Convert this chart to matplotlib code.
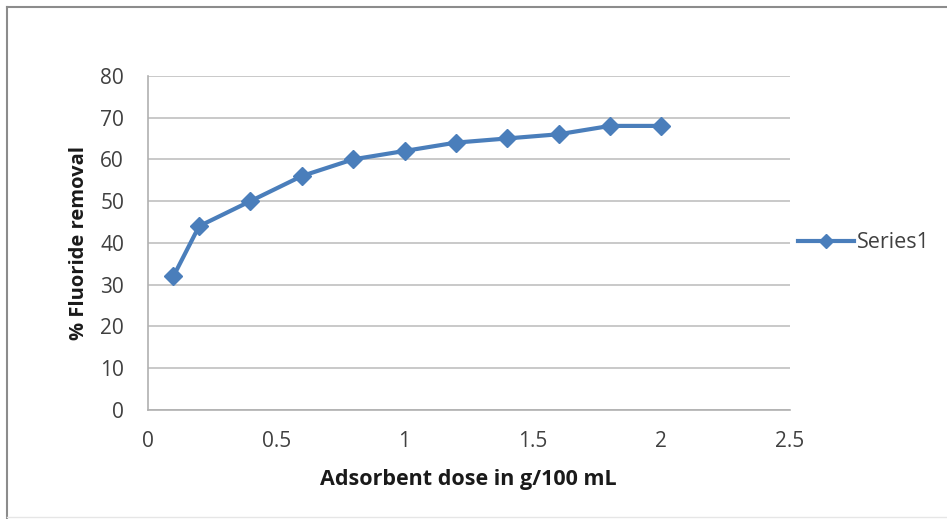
import matplotlib
matplotlib.use('Agg')
import matplotlib.pyplot as plt
from matplotlib.lines import Line2D

# data
dose = [0.1, 0.2, 0.4, 0.6, 0.8, 1.0, 1.2, 1.4, 1.6, 1.8, 2.0]
removal = [32, 44, 50, 56, 60, 62, 64, 65, 66, 68, 68]
x_ticks = [0, 0.5, 1, 1.5, 2, 2.5]
x_labels = ['0', '0.5', '1', '1.5', '2', '2.5']
y_ticks = [0, 10, 20, 30, 40, 50, 60, 70, 80]

plt.rcParams['font.family'] = ['Open Sans', 'DejaVu Sans']
LINE = '#4a7ebb'
TXT = '#404040'

fig = plt.figure(figsize=(9.47, 5.19), dpi=100)
fig.patch.set_facecolor('white')
# chart frame: grey top/left, faint bottom
fig.lines.append(Line2D([0.0075, 0.0075], [0.0, 0.987], transform=fig.transFigure,
                        color='#8c8c8c', linewidth=1.5))
fig.lines.append(Line2D([0.0075, 1.0], [0.987, 0.987], transform=fig.transFigure,
                        color='#8c8c8c', linewidth=1.5))
fig.lines.append(Line2D([0.0075, 1.0], [0.004, 0.004], transform=fig.transFigure,
                        color='#e6e6e6', linewidth=1))

ax = fig.add_axes([0.156, 0.210, 0.678, 0.644])
ax.plot(dose, removal, color=LINE, linewidth=3, marker='D', markersize=9,
        markerfacecolor=LINE, markeredgecolor=LINE, label='Series1')

ax.set_xlim(0, 2.5)
ax.set_ylim(0, 80)
ax.set_xticks(x_ticks)
ax.set_xticklabels(x_labels)
ax.set_yticks(y_ticks)
ax.tick_params(length=0, labelsize=15, colors=TXT)
ax.tick_params(axis='y', pad=17)
ax.tick_params(axis='x', pad=15)
ax.yaxis.grid(True, color='#c0c0c0', linewidth=1.2)
ax.set_axisbelow(True)
for s in ['top', 'right']:
    ax.spines[s].set_visible(False)
for s in ['left', 'bottom']:
    ax.spines[s].set_color('#b0b0b0')
    ax.spines[s].set_linewidth(1.2)

ax.set_xlabel('Adsorbent dose in g/100 mL', fontsize=15.5, fontweight='bold', color='#1a1a1a', labelpad=12)
ax.set_ylabel('% Fluoride removal', fontsize=14.5, fontweight='bold', color='#1a1a1a', labelpad=8)

leg = ax.legend(loc='center left', bbox_to_anchor=(1.0, 0.5), frameon=False, fontsize=15.5,
                handlelength=2.6, handletextpad=0.1, markerscale=0.75, borderaxespad=0)
for t in leg.get_texts():
    t.set_color(TXT)

fig.savefig('out.png', dpi=100)
